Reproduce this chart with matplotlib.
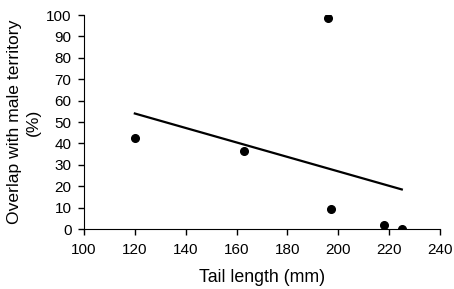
import numpy as np
import matplotlib.pyplot as plt

plt.rcParams['font.family'] = ['Liberation Sans', 'DejaVu Sans']

tail_length = [120, 163, 196, 197, 218, 225]
overlap = [42.5, 36.5, 98.5, 9.5, 2, 0]
x_ticks = [100, 120, 140, 160, 180, 200, 220, 240]
y_ticks = [0, 10, 20, 30, 40, 50, 60, 70, 80, 90, 100]

fig = plt.figure(figsize=(4.54, 2.89), dpi=100)
ax = fig.add_axes([0.185, 0.2076, 0.784, 0.7404])

ax.plot(tail_length, overlap, 'o', color='black', markersize=5.5)

# linear trend line over the data range
slope, intercept = np.polyfit(tail_length, overlap, 1)
xs = np.array([min(tail_length), max(tail_length)])
ax.plot(xs, slope * xs + intercept, color='black', linewidth=1.6)

ax.set_xlim(100, 240)
ax.set_ylim(0, 100)
ax.set_xticks(x_ticks)
ax.set_yticks(y_ticks)
ax.spines['top'].set_visible(False)
ax.spines['right'].set_visible(False)
ax.tick_params(direction='out', length=4, width=1, labelsize=11, colors='black')
ax.tick_params(axis='x', pad=6)
ax.tick_params(axis='y', pad=5)
ax.set_xlabel('Tail length (mm)', fontsize=12.8, labelpad=9)
ax.set_ylabel('Overlap with male territory\n(%)', fontsize=12.6, labelpad=4,
              multialignment='center', linespacing=1.25)

fig.savefig('out.png', dpi=100)
